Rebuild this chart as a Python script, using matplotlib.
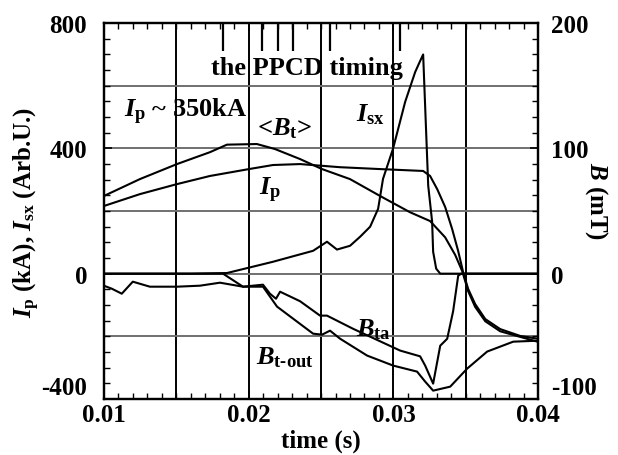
import matplotlib
matplotlib.use("Agg")

import numpy as np
import matplotlib.pyplot as plt
from matplotlib.ticker import MultipleLocator, FixedLocator, FormatStrFormatter

plt.rcParams['font.family'] = 'Liberation Serif'
plt.rcParams['font.weight'] = 'bold'
plt.rcParams['axes.labelweight'] = 'bold'
plt.rcParams['mathtext.fontset'] = 'custom'
plt.rcParams['mathtext.rm'] = 'Liberation Serif:bold'
plt.rcParams['mathtext.it'] = 'Liberation Serif:bold:italic'
plt.rcParams['mathtext.bf'] = 'Liberation Serif:bold'
plt.rcParams['axes.unicode_minus'] = False

# plasma current (kA)
ip_t = [0.0100, 0.01249, 0.01505, 0.01733, 0.02002, 0.02168, 0.02355, 0.02631,
        0.02908, 0.03205, 0.03253, 0.03302, 0.03357, 0.03405, 0.03447, 0.03481,
        0.03516, 0.03564, 0.03634, 0.03737, 0.03876, 0.0400]
ip_v = [216, 254, 286, 312, 334, 347, 350, 340, 334, 328, 312, 270, 213, 143,
        72, 5, -49, -97, -145, -177, -199, -208]

# soft x-ray (arb. units, left axis)
isx_t = [0.0100, 0.0160, 0.01850, 0.02168, 0.02445, 0.02541, 0.02610, 0.02700,
         0.02770, 0.02839, 0.02894, 0.02928, 0.02997, 0.03081, 0.03150, 0.03184,
         0.03205, 0.03240, 0.03267, 0.03274, 0.03295, 0.03323, 0.0400]
isx_v = [0, 0, 2, 38, 73, 102, 77, 89, 118, 150, 207, 303, 399, 549, 644, 679,
         700, 281, 166, 70, 16, 0, 0]

# <Bt> (mT)
bt_t = [0.0100, 0.01249, 0.01505, 0.01733, 0.01850, 0.02057, 0.02182, 0.02355,
        0.02507, 0.02700, 0.02908, 0.03115, 0.03253, 0.03357, 0.03426, 0.03475,
        0.03516, 0.03564, 0.03634, 0.03737, 0.03876, 0.0400]
bt_v = [62, 75.5, 87.5, 97, 103, 103.5, 99.5, 91.5, 83.5, 75.5, 62, 49, 42, 29,
        15, 2, -14, -26.5, -38, -46, -50.5, -54.5]

# Bta (mT)
bta_t = [0.0100, 0.01055, 0.01124, 0.01200, 0.01318, 0.01505, 0.01664, 0.01802,
         0.01961, 0.02099, 0.02147, 0.02189, 0.02217, 0.02355, 0.02493, 0.02541,
         0.02721, 0.03046, 0.03184, 0.03219, 0.03274, 0.03323, 0.03371, 0.03412,
         0.03447, 0.03468, 0.0400]
bta_v = [-9.6, -12, -16, -6.4, -10.4, -10.4, -9.6, -7.2, -10.4, -8.8, -16, -20,
         -14.4, -22, -33.5, -33.5, -44, -61.4, -66, -73.4, -87.8, -57.5, -52,
         -30, -1.6, 0, 0]

# Bt-out (mT)
bto_t = [0.0100, 0.01823, 0.01961, 0.02099, 0.02196, 0.02445, 0.02507, 0.02562,
         0.02631, 0.02818, 0.02998, 0.03163, 0.03219, 0.03274, 0.03392, 0.03509,
         0.03647, 0.03827, 0.0400]
bto_v = [0, 0, -10.4, -10.4, -26.3, -47.9, -48.7, -45.5, -51.9, -65.4, -73.4,
         -78.2, -86.2, -93.4, -90.2, -75.8, -62.2, -54.3, -53.5]

ppcd_t = [0.01823, 0.02092, 0.02203, 0.02306, 0.02562, 0.03046]

left_ticks = [-400, 0, 400, 800]
right_ticks = [-100, 0, 100, 200]

fig = plt.figure(figsize=(6.18, 4.56), dpi=100)
ax = fig.add_axes([0.168, 0.123, 0.703, 0.824])
ax2 = ax.twinx()

# grid
for t in np.arange(0.015, 0.040, 0.005):
    ax.axvline(t, color='black', lw=1.4, zorder=1)
for v in np.arange(-200, 800, 200):
    ax.axhline(v, color='#707070', lw=1.4, zorder=1)

ax.plot(ip_t, ip_v, color='black', lw=1.5, zorder=3)
ax.plot(isx_t, isx_v, color='black', lw=1.5, zorder=3)
ax2.plot(bt_t, bt_v, color='black', lw=1.5, zorder=3)
ax2.plot(bta_t, bta_v, color='black', lw=1.5, zorder=3)
ax2.plot(bto_t, bto_v, color='black', lw=1.5, zorder=3)

ax.vlines(ppcd_t, 710, 800, color='black', lw=1.6, zorder=3)

ax.set_xlim(0.01, 0.04)
ax.set_ylim(-400, 800)
ax2.set_ylim(-100, 200)

ax.xaxis.set_major_locator(MultipleLocator(0.01))
ax.xaxis.set_minor_locator(MultipleLocator(0.001))
ax.xaxis.set_major_formatter(FormatStrFormatter('%.2f'))
ax.yaxis.set_major_locator(FixedLocator(left_ticks))
ax.yaxis.set_minor_locator(MultipleLocator(50))
ax2.yaxis.set_major_locator(FixedLocator(right_ticks))
ax2.yaxis.set_minor_locator(MultipleLocator(12.5))

ax.tick_params(axis='both', which='both', direction='in', labelsize=18, top=True)
ax.tick_params(axis='x', pad=3)
ax.tick_params(axis='y', pad=12)
ax.tick_params(which='major', length=6, width=1.2)
ax.tick_params(which='minor', length=4, width=1)
ax.tick_params(axis='y', which='both', right=False)
ax2.tick_params(which='both', direction='in', labelsize=18, pad=9)
ax2.tick_params(which='major', length=6, width=1.2)
ax2.tick_params(which='minor', length=4, width=1)

# bottom labels sit above the lower spine, as in the original
ax.yaxis.get_major_ticks()[0].label1.set_va('bottom')
ax2.yaxis.get_major_ticks()[0].label2.set_va('bottom')

for a in (ax, ax2):
    for s in a.spines.values():
        s.set_linewidth(1.6)

ax.set_xlabel('time (s)', fontsize=18, labelpad=2)
ax.set_ylabel(r'$I_{\mathrm{p}}$ (kA), $I_{\mathrm{sx}}$ (Arb.U.)', fontsize=18)
ax.yaxis.set_label_coords(-0.143, 0.5)
ax2.set_ylabel(r'$B$ (mT)', fontsize=18, rotation=270, labelpad=18)
ax2.yaxis.set_label_coords(1.165, 0.53)

ax.text(0.02403, 660, 'the PPCD timing', fontsize=19, ha='center', va='center', zorder=4)
ax.text(0.0114, 520, r'$I_{\mathrm{p}}$ ~ 350kA', fontsize=19, ha='left', va='center', zorder=4)
ax.text(0.02251, 466, r'<$B_{\mathrm{t}}$>', fontsize=19, ha='center', va='center', zorder=4)
ax.text(0.02839, 510, r'$I_{\mathrm{sx}}$', fontsize=19, ha='center', va='center', zorder=4)
ax.text(0.02147, 268, r'$I_{\mathrm{p}}$', fontsize=19, ha='center', va='center', zorder=4)
ax.text(0.02859, -177, r'$B_{\mathrm{ta}}$', fontsize=19, ha='center', va='center', zorder=4)
ax.text(0.02251, -266, r'$B_{\mathrm{t\text{-}out}}$', fontsize=19, ha='center', va='center', zorder=4)

fig.savefig('out.png', dpi=100)
